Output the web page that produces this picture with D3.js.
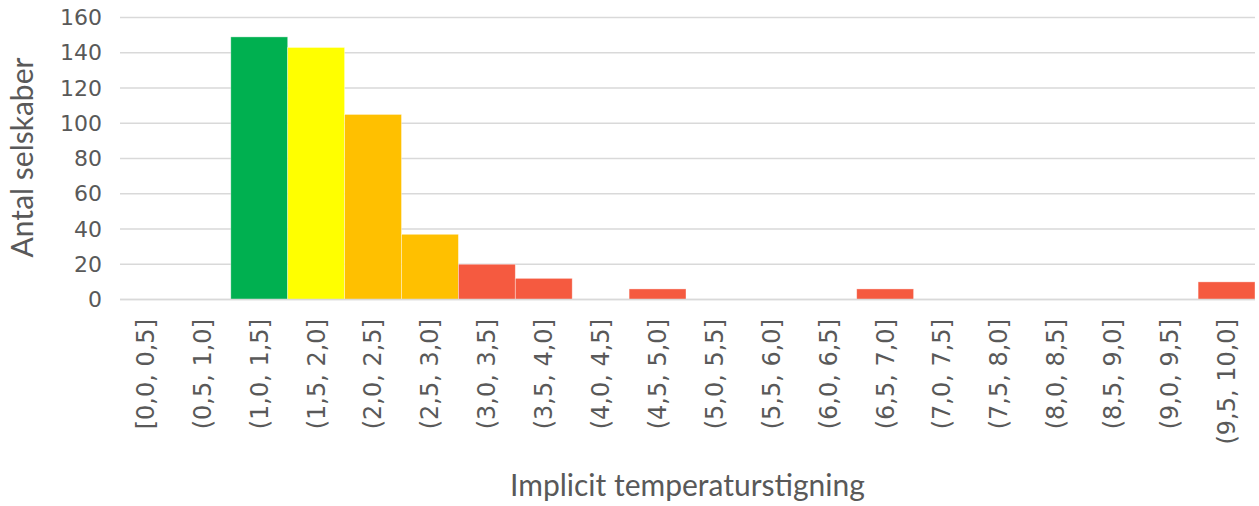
<!DOCTYPE html>
<html>
<head>
<meta charset="utf-8">
<script src="https://cdn.jsdelivr.net/npm/d3@7"></script>
<style>
  html, body { margin: 0; padding: 0; background: #fff; }
  svg { display: block; }
</style>
</head>
<body>
<svg id="chart" width="1259" height="506"></svg>
<script>
// Temperature intervals (°C) and number of companies in each
const categories = [
  "[0,0, 0,5]", "(0,5, 1,0]", "(1,0, 1,5]", "(1,5, 2,0]", "(2,0, 2,5]",
  "(2,5, 3,0]", "(3,0, 3,5]", "(3,5, 4,0]", "(4,0, 4,5]", "(4,5, 5,0]",
  "(5,0, 5,5]", "(5,5, 6,0]", "(6,0, 6,5]", "(6,5, 7,0]", "(7,0, 7,5]",
  "(7,5, 8,0]", "(8,0, 8,5]", "(8,5, 9,0]", "(9,0, 9,5]", "(9,5, 10,0]"
];
const counts = [0, 0, 149, 143, 105, 37, 20, 12, 0, 6, 0, 0, 0, 6, 0, 0, 0, 0, 0, 10];
// Colour group per interval: green (<=1.5), yellow (<=2.0), amber (<=3.0), red (>3.0)
const groups = ["red", "red", "green", "yellow", "amber", "amber", "red", "red", "red", "red",
                "red", "red", "red", "red", "red", "red", "red", "red", "red", "red"];
const yTicks = [0, 20, 40, 60, 80, 100, 120, 140, 160];

const palette = { green: "#00B050", yellow: "#FFFF00", amber: "#FFC000", red: "#F55A40" };

const svg = d3.select("#chart");
const plot = { left: 117, right: 1255, top: 17.5, bottom: 299.5 };

const x = d3.scaleBand()
  .domain(categories)
  .range([plot.left, plot.right])
  .paddingInner(0)
  .paddingOuter(0);

const y = d3.scaleLinear()
  .domain([0, 160])
  .range([plot.bottom, plot.top]);

const textColor = "#595959";
const tickFont = "'DejaVu Sans', Verdana, sans-serif";
const titleFont = "Lato, 'Open Sans', sans-serif";

// Horizontal gridlines
svg.append("g")
  .selectAll("line")
  .data(yTicks)
  .join("line")
  .attr("x1", 120)
  .attr("x2", plot.right)
  .attr("y1", d => y(d))
  .attr("y2", d => y(d))
  .attr("stroke", "#d9d9d9")
  .attr("stroke-width", 1.5);

// Bars
svg.append("g")
  .selectAll("rect")
  .data(categories.map((c, i) => ({ c, v: counts[i], g: groups[i] })).filter(d => d.v > 0))
  .join("rect")
  .attr("x", d => x(d.c))
  .attr("width", x.bandwidth())
  .attr("y", d => y(d.v))
  .attr("height", d => y(0) - y(d.v))
  .attr("fill", d => palette[d.g])
  .attr("stroke", "#ffffff")
  .attr("stroke-opacity", 0.5)
  .attr("stroke-width", 0.75);

// Baseline
svg.append("line")
  .attr("x1", 120).attr("x2", plot.right)
  .attr("y1", y(0)).attr("y2", y(0))
  .attr("stroke", "#d9d9d9").attr("stroke-width", 1.5);

// Y axis tick labels
const yAxis = d3.axisLeft(y).tickValues(yTicks).tickSize(0).tickPadding(0);
const yg = svg.append("g").attr("transform", "translate(102,0)").call(yAxis);
yg.select(".domain").remove();
yg.selectAll("text")
  .attr("fill", textColor)
  .style("font-family", tickFont)
  .style("font-size", "22px");

// X axis tick labels, rotated
const xAxis = d3.axisBottom(x).tickSize(0).tickPadding(0);
const xg = svg.append("g").attr("transform", "translate(0,319)").call(xAxis);
xg.select(".domain").remove();
xg.selectAll("text")
  .attr("fill", textColor)
  .style("font-family", tickFont)
  .style("font-size", "24px")
  .attr("text-anchor", "end")
  .attr("transform", "rotate(-90)")
  .attr("x", 0)
  .attr("y", 0)
  .attr("dy", "0.35em");

// Axis titles
svg.append("text")
  .attr("x", (120 + plot.right) / 2)
  .attr("y", 496)
  .attr("text-anchor", "middle")
  .attr("fill", textColor)
  .style("font-family", titleFont)
  .style("font-size", "30px")
  .text("Implicit temperaturstigning");

svg.append("text")
  .attr("transform", `translate(33,${(58 + 257) / 2}) rotate(-90)`)
  .attr("text-anchor", "middle")
  .attr("fill", textColor)
  .style("font-family", titleFont)
  .style("font-size", "30px")
  .text("Antal selskaber");
</script>
</body>
</html>
